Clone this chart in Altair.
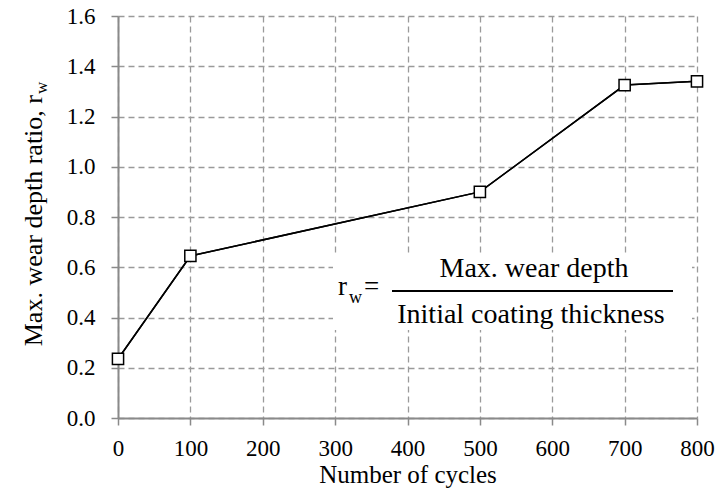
import altair as alt
import pandas as pd

# Wear-depth ratio measured after each number of cycles
cycles = [0, 100, 500, 700, 800]
wear_ratio = [0.235, 0.645, 0.90, 1.325, 1.34]

x_ticks = [0, 100, 200, 300, 400, 500, 600, 700, 800]
y_ticks = [0.0, 0.2, 0.4, 0.6, 0.8, 1.0, 1.2, 1.4, 1.6]

FONT = "'Liberation Serif', 'DejaVu Serif', serif"
GRID = "#9a9a9a"
AXIS = "#8a8a8a"

df = pd.DataFrame({"cycles": cycles, "ratio": wear_ratio})

x_enc = alt.X(
    "cycles:Q",
    scale=alt.Scale(domain=[0, 800], nice=False),
    axis=alt.Axis(values=x_ticks, title=None, labelFontSize=23, labelPadding=12,
                  labelFlush=False),
)
y_enc = alt.Y(
    "ratio:Q",
    scale=alt.Scale(domain=[0, 1.6], nice=False),
    axis=alt.Axis(values=y_ticks, format=".1f", title=None, labelFontSize=23,
                  labelPadding=16),
)

base = alt.Chart(df)

line = base.mark_line(color="black", strokeWidth=1.5).encode(x=x_enc, y=y_enc)
points = base.mark_point(
    shape="square", size=125, filled=True, fill="white", stroke="black",
    strokeWidth=1.5, opacity=1,
).encode(x="cycles:Q", y="ratio:Q")

# Formula panel: white backing that hides the grid, then the fraction
panel = base.mark_rect(color="white").encode(
    x=alt.value(215), x2=alt.value(574), y=alt.value(240), y2=alt.value(314)
)

def label(txt, x, y, size, align="center", angle=0, baseline="alphabetic"):
    return alt.Chart(pd.DataFrame({"t": [txt]})).mark_text(
        font=FONT, fontSize=size, color="black", align=align, baseline=baseline,
        angle=angle,
    ).encode(text="t:N", x=alt.value(x), y=alt.value(y))

numerator = label("Max. wear depth", 416, 261, 28)
denominator = label("Initial coating thickness", 413, 307, 28)
frac_bar = alt.Chart(pd.DataFrame({"a": [0]})).mark_rule(
    color="black", strokeWidth=2
).encode(x=alt.value(274), x2=alt.value(555), y=alt.value(275))
r_sym = label("r", 220, 279, 27, align="left")
r_sub = label("w", 231, 287, 18, align="left")
eq_sym = label("=", 246, 279, 27, align="left")

# Axis titles
x_title = label("Number of cycles", 290, 467, 25)
y_title = label("Max. wear depth ratio, r", -76, 79, 26, align="right", angle=270)
y_sub = label("w", -71, 78, 17, align="left", angle=270)

chart = alt.layer(
    line, panel, line, points,
    numerator, denominator, frac_bar, r_sym, r_sub, eq_sym,
    x_title, y_title, y_sub,
).properties(
    width=579, height=402,
    padding={"left": 118, "top": 16, "right": 22, "bottom": 72},
    autosize=alt.AutoSizeParams(type="none"),
).configure_view(
    stroke=None
).configure_axis(
    labelFont=FONT, labelColor="black",
    domainColor=AXIS, domainWidth=2,
    tickColor=AXIS, tickWidth=1.5, tickSize=7,
    grid=True, gridColor=GRID, gridDash=[6, 4], gridWidth=1.3, gridOpacity=1,
)

chart.save("out.html", embed_options={"renderer": "svg", "actions": False})
